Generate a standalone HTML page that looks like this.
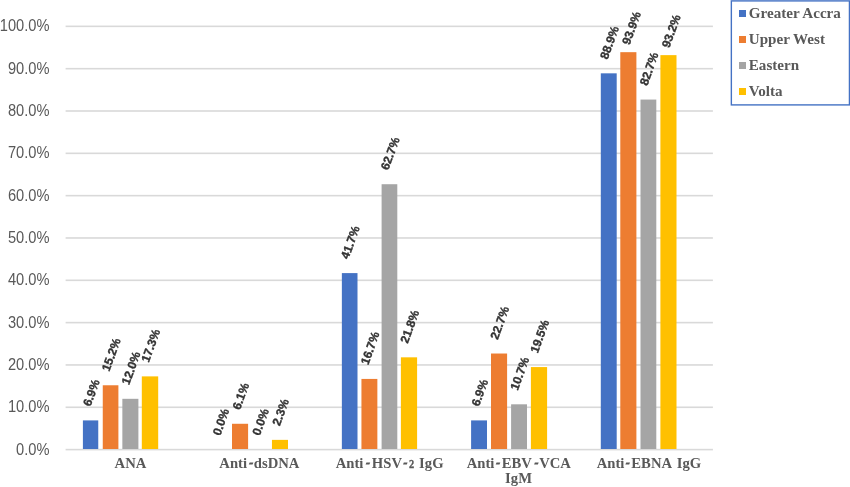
<!DOCTYPE html><html><head><meta charset="utf-8"><style>
*{margin:0;padding:0}
html,body{width:850px;height:487px;background:#fff;overflow:hidden}
svg{display:block;will-change:transform;filter:blur(0.3px)}
.yl{font-family:"Liberation Sans",sans-serif;font-size:14.67px;fill:#595959}
.dl{font-family:"Liberation Sans",sans-serif;font-size:12px;font-weight:bold;fill:#333333;stroke:#333333;stroke-width:0.35px}
.cl{font-family:"Liberation Serif",serif;font-size:14.67px;font-weight:bold;fill:#595959}
.lt{font-family:"Liberation Serif",serif;font-size:15.1px;font-weight:bold;fill:#595959}
</style></head><body>
<svg width="850" height="487" viewBox="0 0 850 487">

<rect x="65.60" y="448.80" width="647.30" height="1.6" fill="#d9d9d9"/>
<text class="yl" transform="translate(49.5 454.50) scale(1 1.065)" text-anchor="end">0.0%</text>
<rect x="65.60" y="406.48" width="647.30" height="1.6" fill="#d9d9d9"/>
<text class="yl" transform="translate(49.5 412.18) scale(1 1.065)" text-anchor="end">10.0%</text>
<rect x="65.60" y="364.15" width="647.30" height="1.6" fill="#d9d9d9"/>
<text class="yl" transform="translate(49.5 369.85) scale(1 1.065)" text-anchor="end">20.0%</text>
<rect x="65.60" y="321.82" width="647.30" height="1.6" fill="#d9d9d9"/>
<text class="yl" transform="translate(49.5 327.52) scale(1 1.065)" text-anchor="end">30.0%</text>
<rect x="65.60" y="279.50" width="647.30" height="1.6" fill="#d9d9d9"/>
<text class="yl" transform="translate(49.5 285.20) scale(1 1.065)" text-anchor="end">40.0%</text>
<rect x="65.60" y="237.18" width="647.30" height="1.6" fill="#d9d9d9"/>
<text class="yl" transform="translate(49.5 242.88) scale(1 1.065)" text-anchor="end">50.0%</text>
<rect x="65.60" y="194.85" width="647.30" height="1.6" fill="#d9d9d9"/>
<text class="yl" transform="translate(49.5 200.55) scale(1 1.065)" text-anchor="end">60.0%</text>
<rect x="65.60" y="152.53" width="647.30" height="1.6" fill="#d9d9d9"/>
<text class="yl" transform="translate(49.5 158.23) scale(1 1.065)" text-anchor="end">70.0%</text>
<rect x="65.60" y="110.20" width="647.30" height="1.6" fill="#d9d9d9"/>
<text class="yl" transform="translate(49.5 115.90) scale(1 1.065)" text-anchor="end">80.0%</text>
<rect x="65.60" y="67.88" width="647.30" height="1.6" fill="#d9d9d9"/>
<text class="yl" transform="translate(49.5 73.58) scale(1 1.065)" text-anchor="end">90.0%</text>
<rect x="65.60" y="25.55" width="647.30" height="1.6" fill="#d9d9d9"/>
<text class="yl" transform="translate(49.5 31.25) scale(1 1.065)" text-anchor="end">100.0%</text>
<rect x="82.90" y="420.40" width="15.36" height="28.60" fill="#4472C4"/>
<rect x="102.76" y="385.27" width="15.64" height="63.73" fill="#ED7D31"/>
<rect x="122.35" y="398.81" width="16.05" height="50.19" fill="#A5A5A5"/>
<rect x="141.80" y="376.38" width="16.40" height="72.62" fill="#FFC000"/>
<text class="dl" transform="translate(90.46 407.05) rotate(-70)">6.9%</text>
<text class="dl" transform="translate(109.31 371.92) rotate(-70)">15.2%</text>
<text class="dl" transform="translate(129.11 385.46) rotate(-70)">12.0%</text>
<text class="dl" transform="translate(148.73 363.03) rotate(-70)">17.3%</text>
<rect x="232.00" y="423.78" width="16.10" height="25.22" fill="#ED7D31"/>
<rect x="271.95" y="439.87" width="16.05" height="9.13" fill="#FFC000"/>
<text class="dl" transform="translate(220.13 436.25) rotate(-70)">0.0%</text>
<text class="dl" transform="translate(239.93 410.43) rotate(-70)">6.1%</text>
<text class="dl" transform="translate(259.83 436.25) rotate(-70)">0.0%</text>
<text class="dl" transform="translate(279.81 426.52) rotate(-70)">2.3%</text>
<rect x="341.86" y="273.10" width="15.64" height="175.90" fill="#4472C4"/>
<rect x="361.44" y="378.92" width="15.92" height="70.08" fill="#ED7D31"/>
<rect x="381.60" y="184.22" width="15.70" height="264.78" fill="#A5A5A5"/>
<rect x="400.90" y="357.33" width="16.20" height="91.67" fill="#FFC000"/>
<text class="dl" transform="translate(348.37 259.75) rotate(-70)">41.7%</text>
<text class="dl" transform="translate(368.13 365.57) rotate(-70)">16.7%</text>
<text class="dl" transform="translate(388.18 170.87) rotate(-70)">62.7%</text>
<text class="dl" transform="translate(407.69 343.98) rotate(-70)">21.8%</text>
<rect x="471.10" y="420.40" width="15.90" height="28.60" fill="#4472C4"/>
<rect x="491.00" y="353.52" width="16.10" height="95.48" fill="#ED7D31"/>
<rect x="511.10" y="404.31" width="15.90" height="44.69" fill="#A5A5A5"/>
<rect x="530.90" y="367.07" width="16.20" height="81.93" fill="#FFC000"/>
<text class="dl" transform="translate(478.93 407.05) rotate(-70)">6.9%</text>
<text class="dl" transform="translate(497.74 340.17) rotate(-70)">22.7%</text>
<text class="dl" transform="translate(517.78 390.96) rotate(-70)">10.7%</text>
<text class="dl" transform="translate(537.73 353.72) rotate(-70)">19.5%</text>
<rect x="600.80" y="73.33" width="15.90" height="375.67" fill="#4472C4"/>
<rect x="620.30" y="52.17" width="16.10" height="396.83" fill="#ED7D31"/>
<rect x="640.50" y="99.57" width="15.80" height="349.43" fill="#A5A5A5"/>
<rect x="660.40" y="55.13" width="16.10" height="393.87" fill="#FFC000"/>
<text class="dl" transform="translate(607.48 59.98) rotate(-70)">88.9%</text>
<text class="dl" transform="translate(629.48 45.42) rotate(-70)">93.9%</text>
<text class="dl" transform="translate(647.13 86.22) rotate(-70)">82.7%</text>
<text class="dl" transform="translate(669.18 48.48) rotate(-70)">93.2%</text>
<text class="cl" x="114.60" y="468.10">ANA</text>
<text class="cl" x="219.31" y="468.10">Anti</text>
<polygon points="248.80,464.55 249.60,462.5 253.40,462.5 252.60,464.55" fill="#595959"/>
<text class="cl" x="253.81" y="468.10">dsDNA</text>
<text class="cl" x="335.66" y="468.10">Anti</text>
<polygon points="365.60,464.55 366.40,462.5 370.20,462.5 369.40,464.55" fill="#595959"/>
<text class="cl" x="371.85" y="468.10">HSV</text>
<polygon points="403.00,464.55 403.80,462.5 407.60,462.5 406.80,464.55" fill="#595959"/>
<text class="cl" transform="translate(408.95 468.10) scale(0.84 1)" style="font-size:12.4px;stroke:#595959;stroke-width:0.3px">2</text>
<text class="cl" x="419.10" y="468.10">IgG</text>
<text class="cl" x="466.66" y="468.10">Anti</text>
<polygon points="495.70,464.55 496.50,462.5 500.30,462.5 499.50,464.55" fill="#595959"/>
<text class="cl" x="501.80" y="468.10">EBV</text>
<polygon points="534.10,464.55 534.90,462.5 538.70,462.5 537.90,464.55" fill="#595959"/>
<text class="cl" x="539.14" y="468.10">VCA</text>
<text class="cl" x="505.10" y="483.30">IgM</text>
<text class="cl" x="596.76" y="468.10">Anti</text>
<polygon points="625.40,464.55 626.20,462.5 630.00,462.5 629.20,464.55" fill="#595959"/>
<text class="cl" x="631.35" y="468.10">EBNA</text>
<text class="cl" x="676.71" y="468.10">IgG</text>
<rect x="731.35" y="0.9" width="118.1" height="104" fill="none" stroke="#4472C4" stroke-width="1.4"/>
<rect x="739" y="10.00" width="7" height="7" fill="#4472C4"/>
<text class="lt" x="748.8" y="17.50">Greater Accra</text>
<rect x="739" y="36.00" width="7" height="7" fill="#ED7D31"/>
<text class="lt" x="748.8" y="43.50">Upper West</text>
<rect x="739" y="62.00" width="7" height="7" fill="#A5A5A5"/>
<text class="lt" x="748.8" y="69.50">Eastern</text>
<rect x="739" y="88.00" width="7" height="7" fill="#FFC000"/>
<text class="lt" x="748.8" y="95.50">Volta</text>
</svg></body></html>
